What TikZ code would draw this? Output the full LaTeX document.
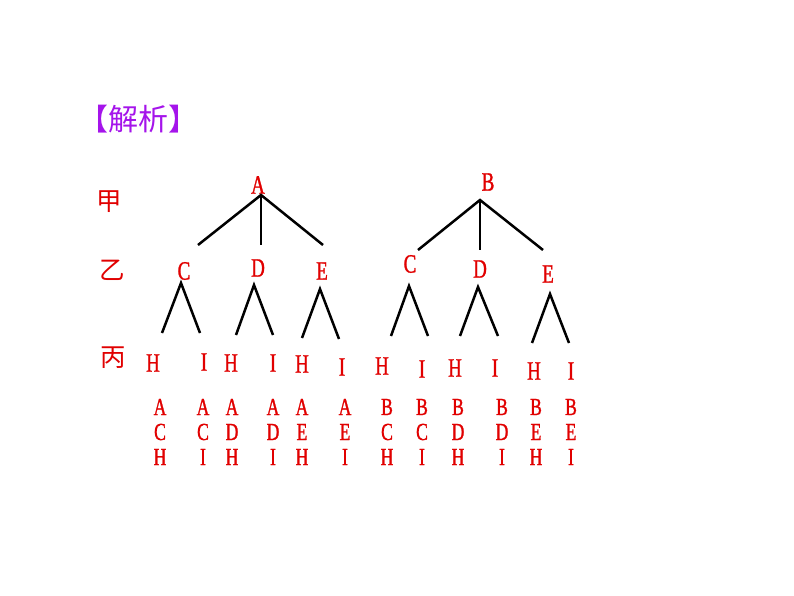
\documentclass[tikz,border=0pt]{standalone}
\usepackage{fontspec}
\newfontfamily\cjk{Noto Sans CJK SC}
\newfontfamily\lat[FakeStretch=0.72,FakeBold=1.1]{Liberation Serif}
\definecolor{myred}{RGB}{225,0,0}
\definecolor{mypurple}{RGB}{165,20,235}
\tikzset{
  lbl/.style={text=myred, font=\lat\fontsize{26.5}{26.5}\selectfont, inner sep=0pt},
  sml/.style={text=myred, font=\lat\fontsize{24.5}{24.5}\selectfont, inner sep=0pt},
  cjklbl/.style={text=myred, font=\cjk\fontsize{25.5}{25.5}\selectfont, inner sep=0pt},
  heading/.style={text=mypurple, font=\cjk\fontsize{30}{30}\selectfont, inner sep=0pt},
  edge/.style={line width=2.5pt, black}
}
\begin{document}
\begin{tikzpicture}[x=1pt,y=-1pt]
\fill[white] (0,0) rectangle (794,596);
\useasboundingbox (0,0) rectangle (794,596);

\node[heading] (title) at (138,119) {【解析】};
\node[cjklbl] (jia) at (109,202) {甲};
\node[cjklbl] (yi) at (112,270) {乙};
\node[cjklbl] (bing) at (113,358) {丙};

% level 1
\node[lbl] (A) at (258,185) {A};
\node[lbl] (B) at (488,182) {B};
% level 2
\node[lbl] (C1) at (184,271) {C};
\node[lbl] (D1) at (258,268) {D};
\node[lbl] (E1) at (322,271) {E};
\node[lbl] (C2) at (410,264) {C};
\node[lbl] (D2) at (480,269) {D};
\node[lbl] (E2) at (548,274) {E};

% big branches
\coordinate (pA) at (261,195);
\coordinate (pA1) at (198,245);
\coordinate (pA2) at (261,245);
\coordinate (pA3) at (323,245);
\coordinate (pB) at (480,200);
\coordinate (pB1) at (418,250);
\coordinate (pB2) at (480,250);
\coordinate (pB3) at (543,250);
\draw[edge] (pA1) -- (pA) -- (pA3);
\draw[edge] (pA) -- (pA2);
\draw[edge] (pB1) -- (pB) -- (pB3);
\draw[edge] (pB) -- (pB2);

% small carets
\foreach \n/\ax/\ay/\lx/\ly/\rx/\ry in {
  1/181/283/162/333/200/333,
  2/254/285/236/335/273/335,
  3/320/289/302/338/339/339,
  4/409/286/391/336/428/336,
  5/478/287/460/336/498/336,
  6/550/294/532/343/569/343}{
  \coordinate (t\n) at (\ax,\ay);
  \coordinate (l\n) at (\lx,\ly);
  \coordinate (r\n) at (\rx,\ry);
  \draw[edge] (l\n) -- (t\n) -- (r\n);
}

% level 3
\foreach \n/\t/\x/\y in {
  1/H/153/363, 2/I/204/362, 3/H/231/363, 4/I/273/363,
  5/H/302/364, 6/I/342/367, 7/H/382/366, 8/I/422/369,
  9/H/455/368, 10/I/495/368, 11/H/534/371, 12/I/571/371}{
  \node[lbl] (leaf\n) at (\x,\y) {\t};
}

% results
\foreach \n/\x/\p/\q/\r in {
  1/160/A/C/H, 2/203/A/C/I, 3/232/A/D/H, 4/273/A/D/I,
  5/302/A/E/H, 6/345/A/E/I, 7/387/B/C/H, 8/422/B/C/I,
  9/458/B/D/H, 10/502/B/D/I, 11/536/B/E/H, 12/571/B/E/I}{
  \node[sml] (ra\n) at (\x,407) {\p};
  \node[sml] (rb\n) at (\x,432) {\q};
  \node[sml] (rc\n) at (\x,457) {\r};
}
\end{tikzpicture}
\end{document}
